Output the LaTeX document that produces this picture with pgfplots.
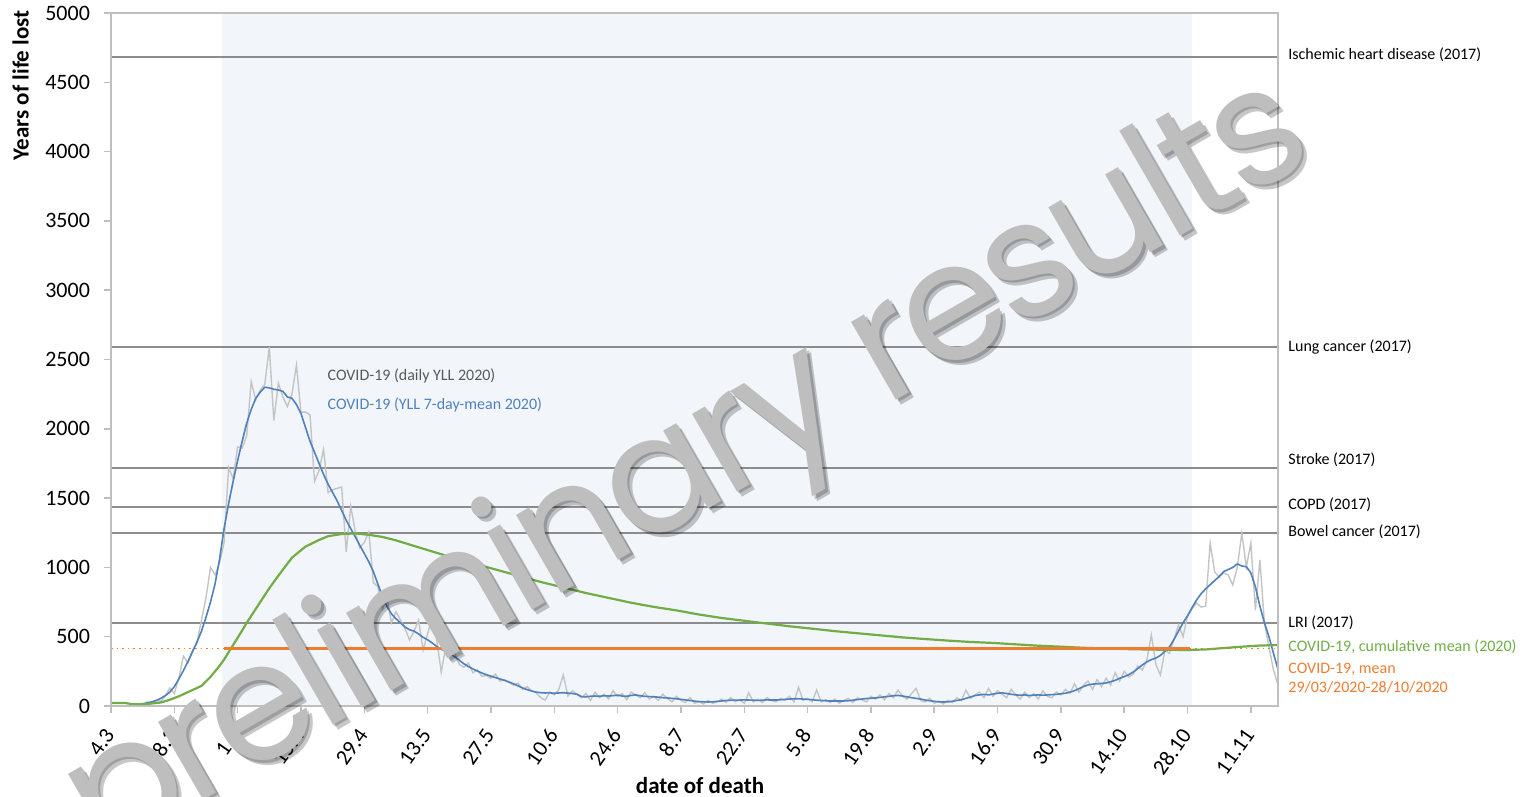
\documentclass[border=0pt]{standalone}
\usepackage{pgfplots}
\pgfplotsset{compat=1.18}
\usepackage{fontspec}
\setmainfont{Carlito}
\newfontfamily\wmfont[LetterSpace=-4]{Poppins}
\definecolor{bgblue}{HTML}{F2F6FA}
\definecolor{lineblue}{HTML}{4F81BD}
\definecolor{linegray}{HTML}{C4C4C4}
\definecolor{refgray}{HTML}{8C8C8C}
\definecolor{cgreen}{HTML}{70AD47}
\definecolor{corange}{HTML}{ED7D31}
\definecolor{axgray}{HTML}{BFBFBF}
\definecolor{txtgray}{HTML}{595959}
\definecolor{wmgray}{HTML}{BEBEBE}

\begin{document}
\begin{tikzpicture}
\begin{axis}[
  width=583.5pt, height=346.5pt, scale only axis,
  xmin=0, xmax=258, ymin=0, ymax=5000,
  clip=false, axis on top,
  xtick={0,14,...,252},
  xticklabels={4.3,18.3,1.4,15.4,29.4,13.5,27.5,10.6,24.6,8.7,22.7,5.8,19.8,2.9,16.9,30.9,14.10,28.10,11.11},
  ytick={0,500,...,5000},
  xtick pos=bottom, ytick pos=left,
  axis line style={axgray, line width=0.75pt},
  tick style={axgray, line width=0.75pt},
  tick align=outside, major tick length=3.5pt,
  ticklabel style={font=\fontsize{11}{13}\selectfont, text=black},
  xticklabel style={rotate=55, anchor=east, inner sep=1pt},
  xticklabel shift=8pt,
  yticklabel shift=3.5pt,
  /pgf/number format/assume math mode=true,
  /pgf/number format/1000 sep={},
]
% shaded period
\addplot[fill=bgblue, draw=none] coordinates {(24.5,5000)(239,5000)} \closedcycle;
% reference lines
\addplot[refgray, line width=0.8pt] coordinates {(0,4683)(258,4683)};
\addplot[refgray, line width=0.8pt] coordinates {(0,2590)(258,2590)};
\addplot[refgray, line width=0.8pt] coordinates {(0,1717)(258,1717)};
\addplot[refgray, line width=0.8pt] coordinates {(0,1436)(258,1436)};
\addplot[refgray, line width=0.8pt] coordinates {(0,1248)(258,1248)};
\addplot[refgray, line width=0.8pt] coordinates {(0,599)(258,599)};
% daily YLL
\addplot[linegray, line width=0.7pt] coordinates {
(5,0)(6,10)(7,5)(8,30)(9,15)(10,40)(11,35)(12,70)(13,130)(14,90)(15,200)(16,360)(17,310)(18,400)(19,455)(20,620)(21,780)(22,1000)(23,945)(24,1030)
(25,1180)(26,1720)(27,1640)(28,1870)(29,1860)(30,1950)(31,2340)(32,2210)(33,2280)(34,2320)(35,2590)(36,2060)(37,2330)(38,2230)(39,2160)(40,2250)
(41,2460)(42,2120)(43,2120)(44,2100)(45,1620)(46,1700)(47,1850)(48,1540)(49,1560)(50,1570)(51,1580)(52,1110)(53,1440)(54,1260)(55,1140)(56,1180)
(57,1255)(58,890)(59,860)(60,700)(61,780)(62,600)(63,680)(64,620)(65,560)(66,476)(67,540)(68,620)(69,404)(70,520)(71,640)(72,480)(73,245)(74,420)
(75,380)(76,382)(77,300)(78,280)(79,310)(80,240)(81,260)(82,215)(83,220)(84,200)(85,230)(86,180)(87,190)(88,170)(89,150)(90,165)(91,120)(92,140)
(93,110)(94,95)(95,60)(96,43)(97,100)(98,80)(99,120)(100,224)(101,72)(102,110)(103,85)(104,60)(105,90)(106,40)(107,100)(108,60)(109,85)(110,50)
(111,110)(112,70)(113,90)(114,45)(115,100)(116,80)(117,60)(118,95)(119,50)(120,70)(121,40)(122,85)(123,55)(124,30)(125,70)(126,40)(127,25)(128,60)
(129,20)(130,30)(131,15)(132,40)(133,20)(134,30)(135,50)(136,25)(137,60)(138,30)(139,45)(140,20)(141,95)(142,30)(143,50)(144,25)(145,60)(146,40)
(147,30)(148,55)(149,40)(150,70)(151,30)(152,135)(153,40)(154,55)(155,30)(156,115)(157,30)(158,45)(159,25)(160,50)(161,20)(162,40)(163,55)(164,25)
(165,60)(166,45)(167,30)(168,70)(169,50)(170,80)(171,45)(172,90)(173,60)(174,115)(175,70)(176,50)(177,90)(178,127)(179,40)(180,30)(181,55)(182,20)
(183,35)(184,15)(185,40)(186,25)(187,60)(188,40)(189,115)(190,55)(191,80)(192,100)(193,60)(194,127)(195,70)(196,110)(197,85)(198,60)(199,120)(200,80)
(201,50)(202,100)(203,60)(204,90)(205,50)(206,110)(207,70)(208,60)(209,100)(210,80)(211,120)(212,90)(213,160)(214,100)(215,150)(216,180)(217,120)(218,190)
(219,140)(220,200)(221,150)(222,240)(223,180)(224,250)(225,210)(226,230)(227,290)(228,260)(229,330)(230,512)(231,300)(232,224)(233,400)(234,380)(235,480)(236,584)
(237,500)(238,650)(239,700)(240,743)(241,714)(242,720)(243,1176)(244,967)(245,930)(246,960)(247,945)(248,873)(249,1000)(250,1248)(251,1003)(252,1176)
(253,693)(254,1053)(255,600)(256,426)(257,260)(258,152)};
% 7-day mean
\addplot[lineblue, line width=0.8pt] coordinates {
(5,5)(6,8)(7,15)(8,22)(9,30)(10,40)(11,55)(12,75)(13,100)(14,140)(15,195)(16,255)(17,320)(18,390)(19,460)(20,540)(21,640)(22,750)(23,880)(24,1060)
(25,1280)(26,1460)(27,1620)(28,1770)(29,1910)(30,2040)(31,2140)(32,2220)(33,2265)(34,2300)(35,2295)(36,2285)(37,2280)(38,2270)(39,2230)(40,2220)
(41,2175)(42,2110)(43,2010)(44,1910)(45,1830)(46,1750)(47,1670)(48,1600)(49,1540)(50,1480)(51,1410)(52,1340)(53,1280)(54,1220)(55,1160)(56,1100)
(57,1040)(58,970)(59,880)(60,790)(61,720)(62,665)(63,630)(64,600)(65,570)(66,550)(67,540)(68,520)(69,495)(70,478)(71,455)(72,430)(73,410)(74,395)
(75,378)(76,355)(77,330)(78,305)(79,285)(80,268)(81,252)(82,238)(83,226)(84,215)(85,205)(86,195)(87,185)(88,173)(89,160)(90,145)(91,130)(92,118)
(93,108)(94,100)(95,96)(96,94)(97,95)(98,92)(99,94)(100,96)(101,93)(102,90)(103,85)(104,68)(105,66)(106,70)(107,72)(108,70)(109,74)(110,72)
(111,75)(112,78)(113,72)(114,70)(115,76)(116,80)(117,74)(118,70)(119,68)(120,66)(121,64)(122,60)(123,58)(124,55)(125,52)(126,48)(127,44)(128,40)
(129,35)(130,32)(131,30)(132,29)(133,30)(134,33)(135,36)(136,40)(137,42)(138,42)(139,43)(140,44)(141,43)(142,42)(143,40)(144,42)(145,44)(146,43)
(147,43)(148,45)(149,48)(150,50)(151,52)(152,52)(153,50)(154,48)(155,45)(156,42)(157,40)(158,38)(159,36)(160,36)(161,36)(162,36)(163,38)(164,42)
(165,46)(166,50)(167,54)(168,56)(169,58)(170,62)(171,66)(172,70)(173,74)(174,76)(175,72)(176,66)(177,60)(178,55)(179,50)(180,43)(181,38)(182,34)
(183,30)(184,29)(185,30)(186,34)(187,40)(188,45)(189,55)(190,65)(191,75)(192,80)(193,84)(194,80)(195,86)(196,92)(197,95)(198,90)(199,85)(200,80)
(201,78)(202,80)(203,76)(204,78)(205,80)(206,78)(207,80)(208,82)(209,84)(210,88)(211,92)(212,100)(213,110)(214,125)(215,140)(216,152)(217,158)(218,160)
(219,163)(220,166)(221,175)(222,185)(223,200)(224,212)(225,226)(226,245)(227,270)(228,296)(229,318)(230,335)(231,346)(232,365)(233,395)(234,426)(235,480)(236,540)
(237,600)(238,650)(239,710)(240,765)(241,810)(242,845)(243,875)(244,905)(245,935)(246,970)(247,985)(248,1000)(249,1025)(250,1010)(251,1005)(252,960)
(253,860)(254,720)(255,600)(256,500)(257,380)(258,265)};
% cumulative mean
\addplot[cgreen, line width=1.1pt] coordinates {
(0,22)(3,22)(5,12)(8,15)(11,25)(13,45)(15,70)(17,100)(20,145)(22,210)(24,290)(25,335)(27,440)(29,545)(30,600)(32,700)(35,850)(37,940)(40,1070)
(43,1150)(46,1198)(48,1225)(51,1241)(54,1245)(57,1235)(60,1220)(63,1195)(66,1165)(70,1125)(75,1075)(80,1030)(85,985)(90,940)(95,895)(100,855)
(105,815)(110,780)(115,745)(120,715)(125,690)(130,660)(135,635)(140,615)(145,595)(150,575)(155,558)(160,540)(165,525)(170,510)(175,495)(180,483)
(185,472)(190,462)(195,455)(200,445)(205,435)(210,428)(215,420)(220,415)(225,410)(230,407)(235,405)(238,404)(242,408)(246,418)(250,428)(254,436)(258,440)};
% mean over the period
\addplot[corange, line width=0.8pt, dotted] coordinates {(0,415)(25,415)};
\addplot[corange, line width=1.1pt] coordinates {(25,415)(238.5,415)};
\addplot[corange, line width=0.8pt, dotted] coordinates {(238.5,415)(258,415)};

% in-plot labels
\node[anchor=west, inner sep=0, text=txtgray, font=\fontsize{8}{9.6}\selectfont] at (axis cs:47.8,2381) {COVID-19 (daily YLL 2020)};
\node[anchor=west, inner sep=0, text=lineblue, font=\fontsize{8}{9.6}\selectfont] at (axis cs:47.8,2172) {COVID-19 (YLL 7-day-mean 2020)};
% right labels
\begin{scope}[every node/.style={anchor=west, inner sep=0, xshift=5pt, font=\fontsize{8}{9.6}\selectfont}]
\node at (axis cs:258,4697) {Ischemic heart disease (2017)};
\node at (axis cs:258,2590) {Lung cancer (2017)};
\node at (axis cs:258,1775) {Stroke (2017)};
\node at (axis cs:258,1450) {COPD (2017)};
\node at (axis cs:258,1255) {Bowel cancer (2017)};
\node at (axis cs:258,599) {LRI (2017)};
\node[text=cgreen] at (axis cs:258,426) {COVID-19, cumulative mean (2020)};
\node[text=corange, align=left] at (axis cs:258,200) {COVID-19, mean\\29/03/2020-28/10/2020};
\end{scope}
% axis labels
\node[rotate=90, anchor=north east, inner sep=0, font=\bfseries\fontsize{11.5}{13}\selectfont] at ([xshift=-49.5pt,yshift=1.5pt]rel axis cs:0,1) {Years of life lost};
\node[anchor=center, inner sep=0, font=\bfseries\fontsize{11.5}{13}\selectfont] at ([xshift=2.75pt,yshift=-40pt]rel axis cs:0.5,0) {date of death};
\coordinate (ll) at (rel axis cs:0,0);
\coordinate (ur) at (rel axis cs:1,1);
\coordinate (wm) at (axis cs:128,1690);
\end{axis}
% watermark
\node[rotate=30, font=\wmfont\fontsize{82}{82}\selectfont, text=black, opacity=0.22] at ([xshift=2.5pt,yshift=-2.5pt]wm) {preliminary results};
\node[rotate=30, font=\wmfont\fontsize{82}{82}\selectfont, text=black, opacity=0.2] at ([xshift=1.2pt,yshift=-1.2pt]wm) {preliminary results};
\node[rotate=30, font=\wmfont\fontsize{82}{82}\selectfont, text=wmgray] at (wm) {preliminary results};
\pgfresetboundingbox
\path ([xshift=-55.5pt,yshift=-45.5pt]ll) rectangle ([xshift=122pt,yshift=6.5pt]ur);
\end{tikzpicture}
\end{document}
